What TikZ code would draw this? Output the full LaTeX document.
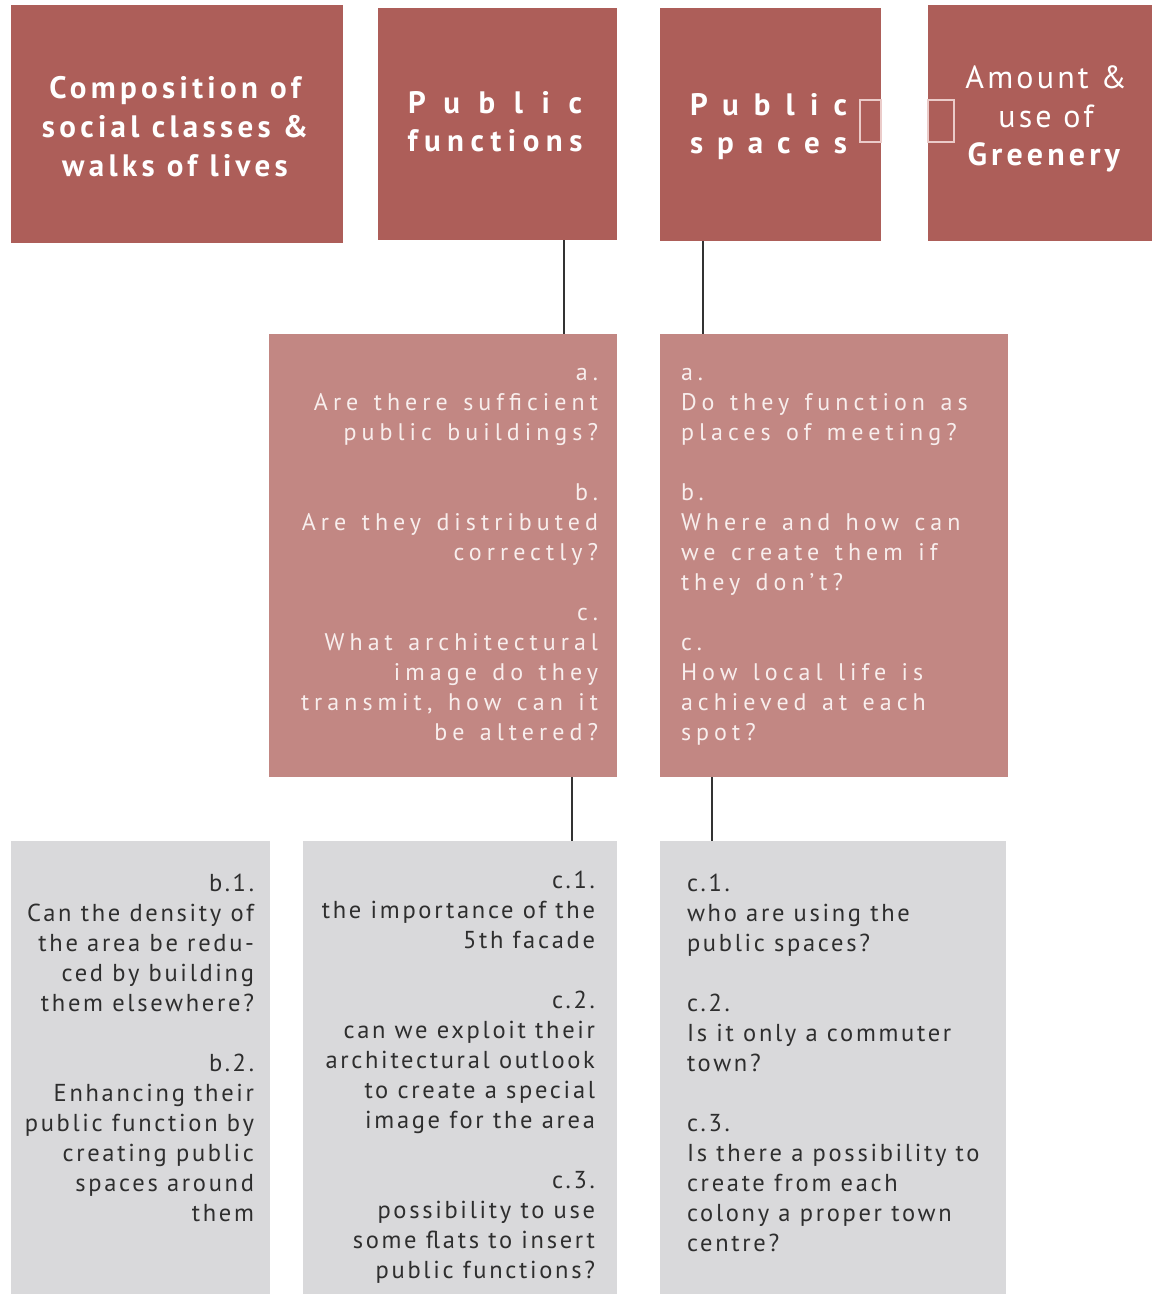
\documentclass[tikz,border=0pt]{standalone}
\usepackage{fontspec}
\setmainfont{PT Sans}
\newfontfamily\midfont[LetterSpace=21,WordSpace=1.35]{PT Sans}
\newcommand{\trk}[1]{\addfontfeature{LetterSpace=#1}}
\definecolor{topred}{HTML}{AD5E59}
\definecolor{midred}{HTML}{C28783}
\definecolor{lowgrey}{HTML}{D9D9DB}
\definecolor{sqpink}{HTML}{EBCBC9}
\definecolor{midtext}{HTML}{F8EEED}
\definecolor{lowtext}{HTML}{2E2E2E}
\definecolor{connc}{HTML}{333333}
\begin{document}
\begin{tikzpicture}[x=1pt,y=-1pt,
  box/.style={inner sep=0pt, outer sep=0pt, anchor=north west, draw=none},
  topbox/.style={box, fill=topred},
  midbox/.style={box, fill=midred},
  lowbox/.style={box, fill=lowgrey},
  txt/.style={inner sep=0pt, outer sep=0pt},
  toptxt/.style={txt, text=white, align=center, anchor=north},
  midtxt/.style={txt, text=midtext, font=\midfont\fontsize{24}{30}\selectfont},
  lowtxt/.style={txt, text=lowtext, font=\fontsize{24.5}{30}\selectfont\trk{11}},
  sq/.style={inner sep=0pt, outer sep=0pt, anchor=north west, draw=sqpink, line width=1.5pt, fill=none},
  conn/.style={draw=connc, line width=2pt}]
\useasboundingbox (0,0) rectangle (1152,1294);

% top row
\node[topbox, minimum width=332pt, minimum height=238pt] (b1) at (11,5) {};
\node[topbox, minimum width=239pt, minimum height=232pt] (b2) at (378,8) {};
\node[topbox, minimum width=221pt, minimum height=233pt] (b3) at (660,8) {};
\node[topbox, minimum width=224pt, minimum height=236pt] (b4) at (928,5) {};
% middle row
\node[midbox, minimum width=348pt, minimum height=443pt] (b5) at (269,334) {};
\node[midbox, minimum width=348pt, minimum height=443pt] (b6) at (660,334) {};
% bottom row
\node[lowbox, minimum width=259pt, minimum height=453pt] (b7) at (11,841) {};
\node[lowbox, minimum width=314pt, minimum height=453pt] (b8) at (303,841) {};
\node[lowbox, minimum width=346pt, minimum height=453pt] (b9) at (660,841) {};

% small squares
\node[sq, minimum width=21pt, minimum height=42pt] (sqL) at (860,100) {};
\node[sq, minimum width=26pt, minimum height=42pt] (sqR) at (928,100) {};

% top texts
\node[toptxt, font=\bfseries\fontsize{31}{39}\selectfont\trk{14}] (t1) at (175,71)
  {\strut Composition of\\social classes \&\\walks of lives};
\node[toptxt, font=\bfseries\fontsize{31}{38}\selectfont] (t2) at (495,86.4)
  {\strut{\trk{60}Public}\\{\trk{21}functions}};
\node[toptxt, font=\bfseries\fontsize{31}{38}\selectfont] (t3) at (768.5,88.4)
  {\strut{\trk{49}Public}\\{\trk{45}spaces}};
\node[toptxt, font=\fontsize{32}{38.5}\selectfont\trk{10}] (t4) at (1046,62)
  {\strut Amount \&\\use of\\\textbf{\trk{13}Greenery}};

% middle texts
\node[midtxt, align=right, anchor=north east] (t5) at (598,359)
  {\strut a.\\Are there sufficient\\public buildings?\\[30pt]
   b.\\Are they distributed\\correctly?\\[30pt]
   c.\\What architectural\\image do they\\transmit, how can it\\be altered?};
\node[midtxt, align=left, anchor=north west] (t6) at (681,359)
  {\strut a.\\Do they function as\\places of meeting?\\[30pt]
   b.\\Where and how can\\we create them if\\they don’t?\\[30pt]
   c.\\How local life is\\achieved at each\\spot?};

% bottom texts
\node[lowtxt, align=right, anchor=north east] (t7) at (254,870.5)
  {\strut b.1.\\Can the density of\\the area be redu-\\ced by building\\them elsewhere?\\[30pt]
   b.2.\\Enhancing their\\public function by\\creating public\\spaces around\\them};
\node[lowtxt, align=right, anchor=north east] (t8) at (595,867)
  {\strut c.1.\\the importance of the\\5th facade\\[30pt]
   c.2.\\can we exploit their\\architectural outlook\\to create a special\\image for the area\\[30pt]
   c.3.\\possibility to use\\some flats to insert\\public functions?};
\node[lowtxt, align=left, anchor=north west] (t9) at (687,870)
  {\strut c.1.\\who are using the\\public spaces?\\[30pt]
   c.2.\\Is it only a commuter\\town?\\[30pt]
   c.3.\\Is there a possibility to\\create from each\\colony a proper town\\centre?};

% connectors
\draw[conn] ([xshift=186pt]b2.south west) -- ([xshift=295pt]b5.north west);
\draw[conn] ([xshift=43pt]b3.south west) -- ([xshift=43pt]b6.north west);
\draw[conn] ([xshift=303pt]b5.south west) -- ([xshift=269pt]b8.north west);
\draw[conn] ([xshift=52pt]b6.south west) -- ([xshift=52pt]b9.north west);
\end{tikzpicture}
\end{document}
